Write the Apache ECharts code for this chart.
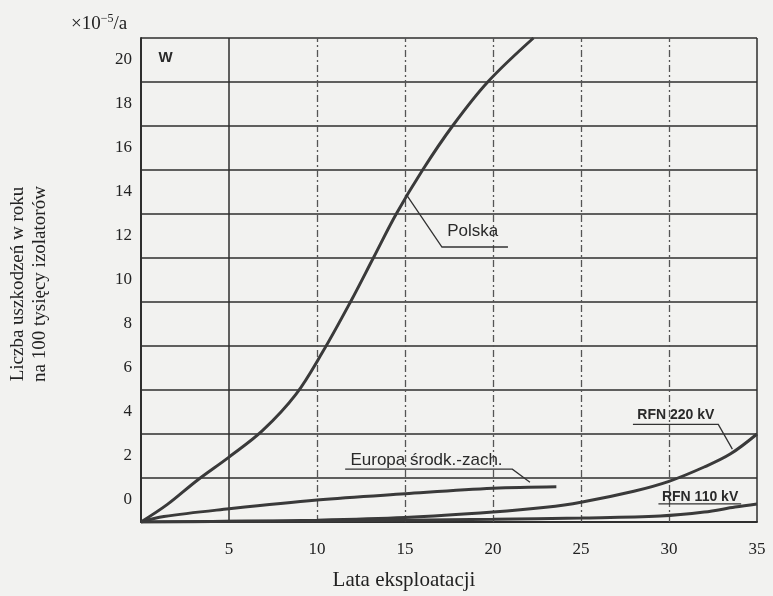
<!DOCTYPE html>
<html>
<head>
<meta charset="utf-8">
<script src="https://cdn.jsdelivr.net/npm/echarts@6/dist/echarts.min.js"></script>
<style>
html, body { margin: 0; padding: 0; background: #f2f2f0; }
#chart { width: 773px; height: 596px; }
</style>
</head>
<body>
<div id="chart"></div>
<script>
// y tick labels (printed in the middle of each band, as in the scan)
var yLabels = ['0', '2', '4', '6', '8', '10', '12', '14', '16', '18', '20'];

// curves: years -> failures
var polskaX = [0, 1.5, 3.2, 5, 6.9, 8.8, 10.3, 11.9, 13.2, 14.5, 16.0, 17.7, 19.7, 22.3];
var polskaY = [-1, -0.2, 0.9, 1.95, 3.15, 4.8, 6.7, 9.0, 11.0, 13.0, 15.0, 17.0, 19.0, 21.0];

var europaX = [0, 1.3, 5, 10, 15, 20, 23.6];
var europaY = [-1, -0.75, -0.4, 0, 0.28, 0.53, 0.6];

var rfn220X = [0, 5, 10, 15, 20, 23, 25, 28, 30, 32, 33.5, 35];
var rfn220Y = [-1, -0.97, -0.92, -0.8, -0.55, -0.33, -0.1, 0.4, 0.85, 1.5, 2.1, 3.0];

var rfn110X = [0, 10, 20, 25, 29.5, 32, 33.75, 35];
var rfn110Y = [-1, -0.95, -0.88, -0.82, -0.73, -0.55, -0.32, -0.18];

// vertical grid lines
var solidGridX = [5, 35];
var dashedGridX = [10, 15, 20, 25, 30];

function pairs(xs, ys) {
	return xs.map(function(x, i) { return [x, ys[i]]; });
}

var ink = '#2e2e2e';
var serif = 'Liberation Serif';
var sans = 'Liberation Sans';

function curve(name, xs, ys) {
	return {
		name: name,
		type: 'line',
		yAxisIndex: 1,
		data: pairs(xs, ys),
		smooth: 0.35,
		symbol: 'none',
		lineStyle: { color: '#3a3a3a', width: 3 },
		z: 5
	};
}

var chart = echarts.init(document.getElementById('chart'));

var series = [
	curve('Polska', polskaX, polskaY),
	curve('Europa środk.-zach.', europaX, europaY),
	curve('RFN 220 kV', rfn220X, rfn220Y),
	curve('RFN 110 kV', rfn110X, rfn110Y)
];
series[0].markLine = {
	silent: true,
	symbol: 'none',
	label: { show: false },
	data: solidGridX.map(function(x) {
		return { xAxis: x, lineStyle: { type: 'solid', color: ink, width: 1.5 } };
	}).concat(dashedGridX.map(function(x) {
		return { xAxis: x, lineStyle: { type: [7, 3, 2, 3], color: '#555', width: 1.3 } };
	}))
};

var option = {
	backgroundColor: '#f2f2f0',
	animation: false,
	title: {
		text: '×10{s|−5}/a',
		left: 66,
		top: 8,
		textStyle: {
			fontFamily: serif,
			fontSize: 19,
			fontWeight: 'normal',
			color: '#222',
			rich: {
				s: { fontFamily: serif, fontSize: 12, color: '#222', padding: [0, 0, 10, 0] }
			}
		}
	},
	grid: { left: 141, right: 16, top: 38, bottom: 73 },
	xAxis: {
		type: 'value',
		min: 0,
		max: 35,
		interval: 5,
		axisLine: { show: true, onZero: false, lineStyle: { color: ink, width: 2 } },
		axisTick: { show: false },
		splitLine: { show: false },
		axisLabel: {
			formatter: function(v) { return v === 0 ? '' : v; },
			margin: 19,
			fontFamily: serif,
			fontSize: 17,
			color: '#222'
		},
		name: 'Lata eksploatacji',
		nameLocation: 'middle',
		nameGap: 48,
		nameTextStyle: { fontFamily: serif, fontSize: 21, color: '#222', padding: [0, 90, 0, 0] }
	},
	yAxis: [{
		type: 'category',
		data: yLabels,
		boundaryGap: true,
		axisLine: { show: true, lineStyle: { color: ink, width: 2 } },
		axisTick: { show: false },
		axisLabel: { margin: 9, fontFamily: serif, fontSize: 17, color: '#222' },
		splitLine: { show: true, lineStyle: { color: ink, width: 1.5 } }
	}, {
		type: 'value',
		min: -1,
		max: 21,
		show: false
	}],
	series: series
};
chart.setOption(option);

// annotations placed in data coordinates
function px(p) {
	return chart.convertToPixel({ seriesIndex: 0 }, p);
}

function leader(points) {
	return {
		type: 'polyline',
		shape: { points: points.map(px) },
		style: { stroke: '#333', lineWidth: 1.3, fill: null },
		silent: true,
		z: 10
	};
}

function note(text, at, size, weight) {
	var p = px(at);
	return {
		type: 'text',
		x: p[0],
		y: p[1],
		style: {
			text: text,
			fill: '#2a2a2a',
			font: (weight || 'normal') + ' ' + size + 'px ' + sans,
			textAlign: 'left',
			textVerticalAlign: 'middle'
		},
		silent: true,
		z: 10
	};
}

chart.setOption({
	graphic: [
		leader([[15.06, 13.9], [17.1, 11.5], [20.85, 11.5]]),
		note('Polska', [17.4, 12.2], 17),
		leader([[11.6, 1.4], [21.1, 1.4], [22.1, 0.81]]),
		note('Europa środk.-zach.', [11.9, 1.8], 17),
		leader([[27.95, 3.44], [32.8, 3.44], [33.6, 2.31]]),
		note('RFN 220 kV', [28.2, 3.85], 14, 'bold'),
		leader([[29.4, -0.18], [34.1, -0.18]]),
		note('RFN 110 kV', [29.6, 0.15], 14, 'bold'),
		note('W', [1.0, 20.1], 15, 'bold'),
		{
			type: 'text',
			x: 29,
			y: 284,
			rotation: Math.PI / 2,
			style: {
				text: 'Liczba uszkodzeń w roku\nna 100 tysięcy izolatorów',
				fill: '#222',
				font: '19px ' + serif,
				lineHeight: 22,
				textAlign: 'center',
				textVerticalAlign: 'middle'
			},
			silent: true
		}
	]
});
</script>
</body>
</html>
